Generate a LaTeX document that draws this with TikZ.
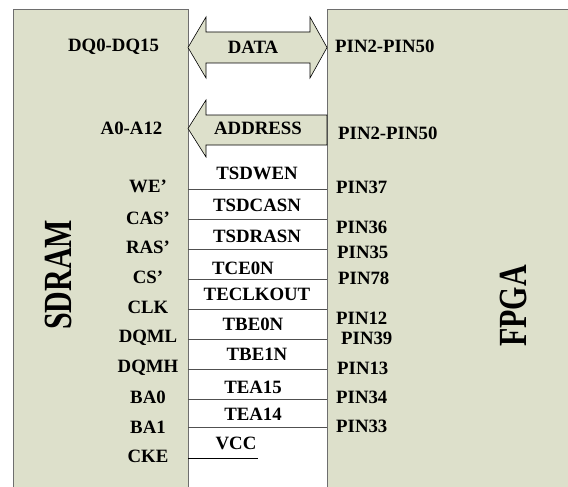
\documentclass[tikz,border=0pt]{standalone}
\usepackage{fontspec}
\setmainfont{Liberation Serif}
\usetikzlibrary{calc}
\definecolor{chipfill}{RGB}{221,224,203}
\definecolor{chipedge}{RGB}{110,110,110}
\definecolor{wire}{RGB}{80,80,80}
\tikzset{
  lbl/.style={inner sep=0pt, font=\fontsize{18.8}{20}\selectfont\bfseries},
  pin/.style={lbl, anchor=west},
  chipedgeline/.style={draw=chipedge, line width=1pt},
  bus/.style={fill=chipfill, draw=black, line width=0.6pt, line join=miter},
  sig/.style={draw=wire, line width=0.8pt},
  title/.style={inner sep=0pt, rotate=90, font=\fontsize{30}{32}\selectfont\bfseries}
}
\begin{document}
\begin{tikzpicture}[x=1pt, y=-1pt]
\useasboundingbox (0,0) rectangle (568,487);
\clip (0,0) rectangle (568,487);
\fill[white] (0,0) rectangle (568,487);

% the two chips (both run past the lower and right edges)
\fill[chipfill] (13,10) rectangle (188,500);
\draw[chipedgeline] (13,500) -- (13,10) -- (188,10) -- (188,500);
\fill[chipfill] (327,10) rectangle (580,500);
\draw[chipedgeline] (327,500) -- (327,10) -- (580,10);
\coordinate (sdR) at (188,0);
\coordinate (fpL) at (327,0);

\node[title] (sdram) at (58,275) {\scalebox{1}[1.33]{SDRAM}};
\node[title] (fpga)  at (513,306) {\scalebox{1}[1.33]{FPGA}};

% bidirectional data bus
\draw[bus] (188,47.5) -- (206,17) -- (206,32) -- (310,32) -- (310,17)
  -- (327,47.5) -- (310,78) -- (310,63) -- (206,63) -- (206,78) -- cycle;
% address bus towards the SDRAM
\draw[bus] (188,128.5) -- (206,100) -- (206,115) -- (327,115)
  -- (327,145) -- (206,145) -- (206,157) -- cycle;

\node[lbl] (dq)   at (113.5,47) {DQ0-DQ15};
\node[lbl] (data) at (253,47) {DATA};
\node[pin] (p250a) at (335,46) {PIN2-PIN50};
\node[lbl] (addr) at (131.5,128) {A0-A12};
\node[lbl] (addrbus) at (258,128) {ADDRESS};
\node[pin] (p250b) at (338,133) {PIN2-PIN50};

% control signal wires between the chips
\foreach \y [count=\i] in {189,219,249,279,309,339,369,399,427}{
  \coordinate (wl\i) at (sdR |- 0,\y);
  \coordinate (wr\i) at (fpL |- 0,\y);
  \draw[sig] (wl\i) -- (wr\i);
}
\coordinate (vccl) at (188,458);
\coordinate (vccr) at (258,458);
\draw[sig, draw=black] (vccl) -- (vccr);

% SDRAM pin names
\foreach \t/\y [count=\i] in {WE'/186,CAS'/218,RAS'/247,CS'/277,CLK/307,
  DQML/338,DQMH/368,BA0/397,BA1/427,CKE/456}{
  \node[lbl] (sp\i) at (148,\y) {\t};
}

% signal names on the wires
\node[lbl] (n1) at (257,173) {TSDWEN};
\node[lbl] (n2) at (257,205) {TSDCASN};
\node[lbl] (n3) at (257,236) {TSDRASN};
\node[lbl] (n4) at (243,268) {TCE0N};
\node[lbl] (n5) at (257,294) {TECLKOUT};
\node[lbl] (n6) at (253,324) {TBE0N};
\node[lbl] (n7) at (257,354) {TBE1N};
\node[lbl] (n8) at (253,387) {TEA15};
\node[lbl] (n9) at (253,414) {TEA14};
\node[lbl] (n10) at (236,443) {VCC};

% FPGA pin numbers
\node[pin] (fp1) at (336,187) {PIN37};
\node[pin] (fp2) at (336,227) {PIN36};
\node[pin] (fp3) at (337,252) {PIN35};
\node[pin] (fp4) at (338,278) {PIN78};
\node[pin] (fp5) at (336,318) {PIN12};
\node[pin] (fp6) at (341,338) {PIN39};
\node[pin] (fp7) at (337,368) {PIN13};
\node[pin] (fp8) at (336,397) {PIN34};
\node[pin] (fp9) at (336,426) {PIN33};
\end{tikzpicture}
\end{document}
